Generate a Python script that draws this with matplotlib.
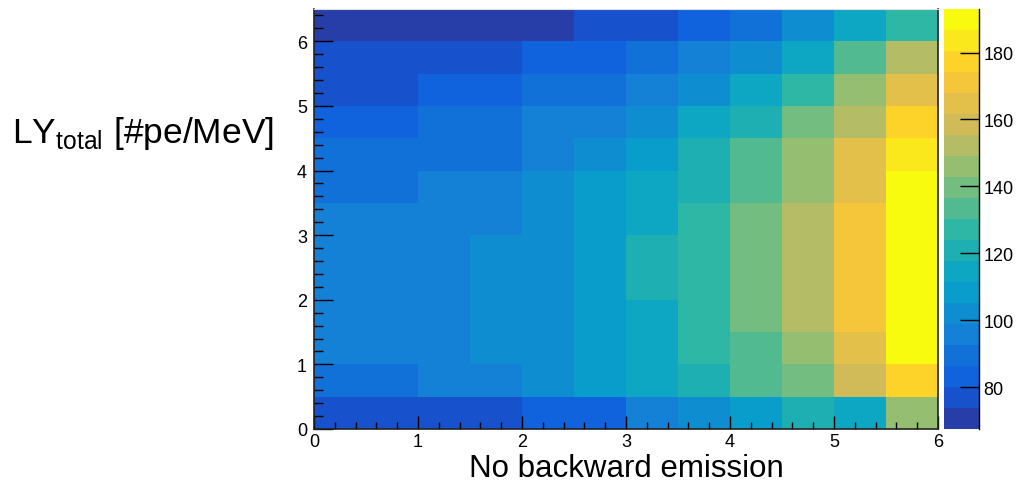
import numpy as np
import matplotlib
matplotlib.use("Agg")
import matplotlib.pyplot as plt
from matplotlib.colors import LinearSegmentedColormap, ListedColormap, BoundaryNorm

plt.rcParams['font.family'] = ['Liberation Sans', 'DejaVu Sans']
plt.rcParams['mathtext.fontset'] = 'custom'
plt.rcParams['mathtext.rm'] = 'Liberation Sans'

# bin edges of the 2D histogram
x_edges = np.arange(0, 6.01, 0.5)
y_edges = np.arange(0, 6.51, 0.5)

# light yield per bin, rows go from y=0 (bottom) to y=6.5 (top)
ly_values = [
    [77, 77, 76, 78, 83, 84, 96, 101, 108, 121, 115, 146],
    [90, 89, 95, 96, 102, 108, 114, 121, 133, 140, 158, 177],
    [96, 95, 97, 101, 103, 109, 115, 127, 134, 146, 165, 189],
    [96, 96, 97, 102, 103, 109, 115, 128, 139, 152, 171, 190],
    [96, 96, 97, 102, 103, 109, 121, 128, 140, 152, 171, 191],
    [95, 96, 96, 101, 103, 108, 121, 127, 139, 152, 171, 190],
    [95, 95, 96, 96, 102, 109, 114, 127, 139, 152, 171, 190],
    [90, 90, 95, 96, 102, 108, 115, 121, 133, 146, 165, 192.8],
    [89, 89, 90, 90, 96, 102, 108, 121, 133, 146, 165, 184],
    [83, 83, 89, 90, 96, 96, 102, 115, 121, 140, 152, 177],
    [77, 77, 83, 83, 89, 90, 96, 102, 114, 127, 146, 165],
    [76, 77, 77, 77, 83, 84, 89, 96, 102, 115, 133, 152],
    [67.5, 69, 70, 71, 71, 77, 77, 83, 89, 102, 115, 127],
]
z_min, z_max = 67.5, 193.0
n_contours = 20
cbar_ticks = [80, 100, 120, 140, 160, 180]

# ROOT kBird palette
stops = [0.0, 0.125, 0.25, 0.375, 0.5, 0.625, 0.75, 0.875, 1.0]
red = [0.2082, 0.0592, 0.0780, 0.0232, 0.1802, 0.5301, 0.8186, 0.9956, 0.9764]
green = [0.1664, 0.3599, 0.5041, 0.6419, 0.7178, 0.7492, 0.7328, 0.7862, 0.9832]
blue = [0.5293, 0.8684, 0.8385, 0.7914, 0.6425, 0.4662, 0.3499, 0.1968, 0.0539]


def bird_cmap():
    cdict = {
        'red': [(s, c, c) for s, c in zip(stops, red)],
        'green': [(s, c, c) for s, c in zip(stops, green)],
        'blue': [(s, c, c) for s, c in zip(stops, blue)],
    }
    full = LinearSegmentedColormap('bird', cdict, N=255)
    # ROOT picks one colour per contour level
    cols = [full((i + 0.99) / n_contours) for i in range(n_contours)]
    return ListedColormap(cols)


cmap = bird_cmap()
levels = np.linspace(z_min, z_max, n_contours + 1)
norm = BoundaryNorm(levels, cmap.N)

fig = plt.figure(figsize=(10.18, 4.85), dpi=100)
W, H = 1018, 485
ax = fig.add_axes([314 / W, 1 - 430 / H, 624 / W, 420 / H])

mesh = ax.pcolormesh(x_edges, y_edges, np.array(ly_values), cmap=cmap, norm=norm)

ax.set_xlim(0, 6)
ax.set_ylim(0, 6.5)
ax.set_xticks(np.arange(0, 7, 1))
ax.set_yticks(np.arange(0, 7, 1))
ax.set_xticks(np.arange(0, 6.01, 0.2), minor=True)
ax.set_yticks(np.arange(0, 6.51, 0.2), minor=True)
ax.tick_params(axis='x', which='major', direction='in', length=9.5, width=1,
               labelsize=13, pad=3)
ax.tick_params(axis='x', which='minor', direction='in', length=5, width=1)
ax.tick_params(axis='y', which='major', direction='in', length=13.5, width=1,
               labelsize=13, pad=5)
ax.tick_params(axis='y', which='minor', direction='in', length=6.5, width=1)
for side in ['left', 'bottom', 'right']:
    ax.spines[side].set_color('#222222')
    ax.spines[side].set_linewidth(1.2)
ax.spines['top'].set_color('#dddddd')

ax.set_xlabel('No backward emission', fontsize=22.5, labelpad=2)

# palette axis
cax = fig.add_axes([944 / W, 1 - 430 / H, 35 / W, 420 / H])
cbar = fig.colorbar(mesh, cax=cax, ticks=cbar_ticks, spacing='proportional')
cbar.outline.set_visible(False)
cax.plot([1, 1], [0, 1], transform=cax.transAxes, color='black', lw=1, clip_on=False)
cax.tick_params(axis='y', direction='in', length=14, width=1, labelsize=13, pad=3)
cax.minorticks_off()

fig.text(12 / W, 1 - 133 / H, r'LY$_{\mathrm{total}}$ [#pe/MeV]', fontsize=25.5,
         ha='left', va='center')

fig.savefig('out.png', dpi=100)
